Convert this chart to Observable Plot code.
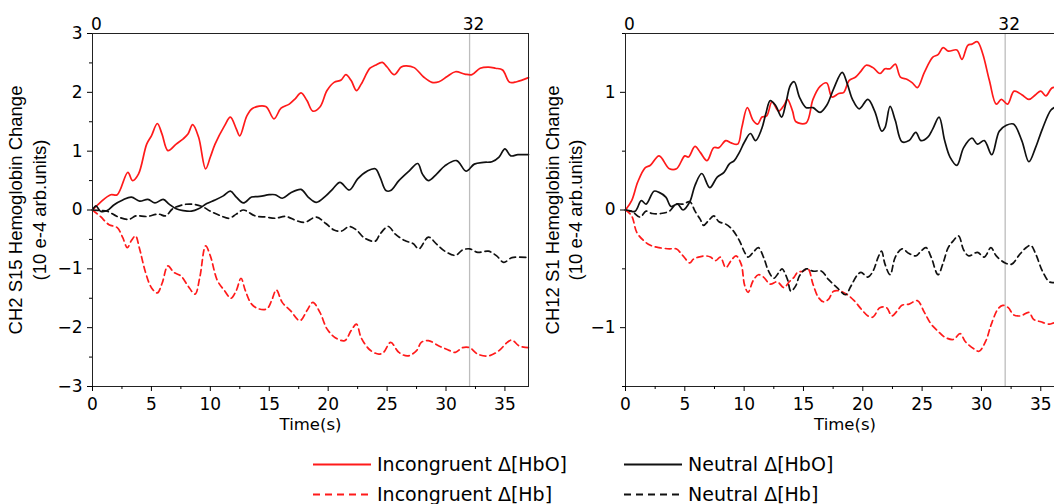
<!DOCTYPE html>
<html>
<head>
<meta charset="utf-8">
<script src="https://cdn.jsdelivr.net/npm/d3@7"></script>
<script src="https://cdn.jsdelivr.net/npm/@observablehq/plot@0.6"></script>
<style>
html, body { margin: 0; padding: 0; background: #fff; overflow: hidden; }
#wrap { position: relative; width: 1100px; height: 504px; }
#wrap > svg { position: absolute; }
</style>
</head>
<body>
<div id="wrap"></div>
<script>
// ---------- DATA (time in s, change in 10e-4 arb.units) ----------
// Left panel: CH2 S15
const ch2IncHbO = [[0,0],[0.67,0.13],[1.55,0.26],[2.1,0.26],[3.0,0.64],[3.4,0.5],[3.9,0.61],[4.6,1.12],[5.0,1.26],[5.5,1.47],[5.9,1.29],[6.4,1.01],[7.1,1.12],[7.7,1.21],[8.1,1.29],[8.5,1.45],[9.0,1.24],[9.6,0.70],[10.0,0.9],[10.4,1.12],[11.2,1.43],[11.7,1.58],[12.2,1.38],[12.5,1.26],[13.1,1.6],[13.6,1.73],[14.7,1.76],[15.4,1.55],[16.0,1.73],[16.7,1.8],[17.2,1.89],[17.7,1.99],[18.2,1.86],[18.7,1.68],[19.3,1.75],[19.9,2.03],[20.5,2.17],[21.1,2.21],[21.5,2.3],[21.95,2.2],[22.4,2.03],[22.8,2.14],[23.55,2.41],[24.0,2.46],[24.6,2.51],[25.0,2.43],[25.6,2.3],[26.2,2.43],[26.6,2.45],[27.3,2.42],[28.1,2.26],[28.8,2.17],[29.4,2.18],[30.1,2.27],[30.8,2.35],[31.6,2.31],[32.2,2.3],[32.9,2.41],[33.6,2.43],[34.2,2.41],[34.8,2.38],[35.4,2.17],[36.0,2.18],[37.0,2.25]];
const ch2NeuHbO = [[0,0],[0.3,0.07],[0.67,-0.02],[1.25,-0.01],[1.84,0.09],[2.57,0.17],[3.3,0.22],[4.0,0.15],[4.7,0.18],[5.3,0.12],[6.0,0.18],[6.5,0.1],[7.1,0.02],[7.7,-0.01],[8.4,-0.02],[9.0,0.02],[9.7,0.11],[10.4,0.17],[11.1,0.24],[11.7,0.32],[12.2,0.22],[12.8,0.12],[13.5,0.22],[14.2,0.23],[15.0,0.26],[15.5,0.26],[16.1,0.2],[16.8,0.29],[17.7,0.35],[18.3,0.22],[19.0,0.13],[19.8,0.24],[20.4,0.36],[21.0,0.47],[21.8,0.34],[22.5,0.53],[23.3,0.66],[24.0,0.70],[24.4,0.56],[24.9,0.33],[25.3,0.33],[26.0,0.5],[26.9,0.67],[27.6,0.79],[28.0,0.61],[28.5,0.5],[29.2,0.61],[29.9,0.75],[30.9,0.84],[31.7,0.66],[32.4,0.78],[33.2,0.81],[33.9,0.82],[34.5,0.9],[35.0,1.04],[35.5,0.92],[36.1,0.94],[37.0,0.94]];
const ch2IncHb = [[0,0],[0.67,-0.11],[1.4,-0.25],[2.1,-0.3],[2.57,-0.47],[2.95,-0.64],[3.3,-0.52],[3.65,-0.44],[3.97,-0.64],[4.5,-1.06],[5.0,-1.32],[5.5,-1.41],[5.9,-1.25],[6.4,-0.95],[6.9,-1.06],[7.5,-1.12],[8.1,-1.29],[8.7,-1.43],[9.1,-1.15],[9.6,-0.61],[10.0,-0.78],[10.6,-1.2],[11.2,-1.37],[11.75,-1.5],[12.2,-1.37],[12.6,-1.16],[12.97,-1.37],[13.5,-1.6],[14.1,-1.68],[14.8,-1.68],[15.2,-1.54],[15.6,-1.36],[16.1,-1.57],[16.8,-1.71],[17.6,-1.88],[18.2,-1.71],[18.7,-1.57],[19.3,-1.74],[19.9,-2.02],[20.6,-2.17],[21.4,-2.22],[21.95,-2.05],[22.4,-1.94],[22.8,-2.17],[23.55,-2.38],[24.3,-2.45],[24.7,-2.42],[25.3,-2.25],[26.0,-2.42],[26.75,-2.48],[27.5,-2.39],[27.9,-2.25],[28.5,-2.22],[29.4,-2.31],[30.1,-2.37],[30.8,-2.42],[31.4,-2.34],[32.0,-2.34],[32.7,-2.45],[33.6,-2.48],[34.5,-2.39],[35.2,-2.25],[35.6,-2.21],[36.2,-2.31],[37.0,-2.34]];
const ch2NeuHb = [[0,0],[0.67,-0.01],[1.25,-0.02],[2.1,-0.11],[3.06,-0.16],[3.7,-0.1],[4.6,-0.11],[5.6,-0.07],[6.2,-0.1],[6.8,0.02],[7.7,0.09],[8.4,0.1],[9.3,0.06],[10.0,-0.02],[10.9,-0.1],[11.6,-0.14],[12.2,-0.07],[12.8,0],[13.8,-0.1],[14.7,-0.12],[15.5,-0.14],[16.4,-0.11],[17.3,-0.18],[18.0,-0.21],[19.0,-0.12],[19.8,-0.23],[20.5,-0.34],[21.1,-0.36],[21.8,-0.28],[22.4,-0.34],[23.1,-0.48],[24.0,-0.53],[24.4,-0.41],[25.1,-0.28],[25.7,-0.41],[26.5,-0.52],[27.2,-0.57],[27.7,-0.66],[28.5,-0.46],[29.2,-0.58],[29.9,-0.7],[30.8,-0.77],[31.4,-0.68],[32.0,-0.66],[32.7,-0.72],[33.6,-0.7],[34.3,-0.78],[34.9,-0.89],[35.6,-0.81],[37.0,-0.81]];

// Right panel: CH12 S1
const ch12IncHbO = [[0,0],[0.52,0.08],[1.04,0.24],[1.67,0.36],[2.1,0.38],[2.83,0.46],[3.7,0.35],[4.3,0.35],[5.0,0.46],[5.3,0.45],[5.86,0.54],[6.3,0.49],[6.87,0.42],[7.44,0.53],[7.88,0.53],[8.45,0.59],[8.9,0.57],[9.46,0.56],[9.8,0.7],[10.27,0.87],[10.76,0.76],[11.14,0.73],[11.5,0.79],[11.9,0.8],[12.35,0.92],[12.9,0.84],[13.36,0.89],[13.65,0.94],[14.08,0.84],[14.37,0.75],[15.23,0.74],[15.8,0.94],[16.4,1.05],[16.96,1.08],[17.4,0.96],[17.97,0.99],[18.4,1.0],[18.84,1.1],[19.4,1.13],[19.85,1.18],[20.28,1.23],[20.86,1.21],[21.44,1.16],[21.87,1.2],[22.3,1.2],[22.74,1.24],[23.17,1.13],[23.75,1.11],[24.18,1.08],[24.6,1.04],[25.19,1.17],[25.9,1.3],[26.34,1.32],[26.77,1.38],[27.2,1.35],[27.93,1.36],[28.36,1.28],[28.85,1.4],[29.2,1.41],[29.66,1.43],[30.1,1.33],[30.67,1.1],[31.25,0.9],[31.68,0.94],[32.2,0.9],[32.75,1.01],[33.4,0.98],[34.0,0.94],[34.56,0.98],[35.0,1.01],[35.43,0.97],[36.0,1.04],[37.0,1.02]];
const ch12NeuHbO = [[0,0],[0.81,-0.01],[1.33,0.08],[1.73,0.05],[2.4,0.16],[2.83,0.15],[3.4,0.11],[3.84,0.03],[4.4,0.05],[4.85,0],[5.42,0.07],[5.86,0.21],[6.43,0.31],[7.1,0.19],[7.73,0.28],[8.3,0.32],[8.74,0.39],[9.17,0.42],[9.6,0.49],[10.04,0.58],[10.53,0.65],[10.96,0.59],[11.48,0.69],[11.83,0.82],[12.2,0.93],[12.64,0.89],[13.16,0.79],[13.5,0.9],[13.9,1.06],[14.22,1.09],[14.66,0.96],[15.23,0.87],[15.8,0.87],[16.4,0.83],[16.96,0.89],[17.54,1.03],[18.26,1.17],[18.7,1.07],[19.13,0.94],[19.7,0.86],[20.43,0.94],[21.0,0.84],[21.6,0.67],[21.87,0.7],[22.3,0.88],[22.74,0.76],[23.3,0.58],[23.9,0.59],[24.47,0.66],[24.9,0.59],[25.48,0.62],[25.9,0.69],[26.43,0.79],[26.9,0.59],[27.35,0.45],[27.93,0.38],[28.5,0.53],[29.2,0.61],[29.66,0.56],[30.24,0.59],[30.87,0.47],[31.5,0.67],[32.1,0.72],[32.7,0.73],[33.4,0.59],[34.0,0.41],[34.56,0.53],[35.14,0.69],[35.86,0.85],[36.3,0.88],[37.0,0.93]];
const ch12IncHb = [[0,0],[0.52,-0.05],[0.95,-0.19],[1.53,-0.26],[2.1,-0.3],[2.83,-0.32],[3.7,-0.33],[4.27,-0.33],[4.85,-0.39],[5.42,-0.45],[5.7,-0.42],[6.15,-0.4],[6.72,-0.39],[7.16,-0.4],[7.6,-0.43],[8.0,-0.4],[8.45,-0.49],[8.9,-0.43],[9.32,-0.39],[9.75,-0.46],[10.04,-0.64],[10.33,-0.7],[10.76,-0.6],[11.2,-0.55],[11.63,-0.57],[12.2,-0.63],[12.78,-0.61],[13.36,-0.66],[13.8,-0.61],[14.22,-0.57],[14.5,-0.53],[14.95,-0.52],[15.38,-0.5],[15.8,-0.63],[16.24,-0.74],[16.68,-0.78],[17.1,-0.76],[17.54,-0.69],[18.12,-0.69],[18.7,-0.72],[19.27,-0.77],[19.85,-0.84],[20.43,-0.9],[20.86,-0.91],[21.44,-0.83],[22.0,-0.83],[22.45,-0.9],[22.88,-0.86],[23.3,-0.81],[23.9,-0.8],[24.6,-0.77],[25.19,-0.87],[25.76,-0.97],[26.34,-1.03],[26.9,-1.08],[27.64,-1.1],[28.2,-1.05],[28.65,-1.12],[29.37,-1.18],[29.8,-1.2],[30.38,-1.11],[30.8,-0.98],[31.4,-0.84],[31.8,-0.81],[32.26,-0.83],[32.7,-0.89],[33.3,-0.9],[34.0,-0.87],[34.4,-0.93],[35.0,-0.95],[35.72,-0.97],[36.2,-0.96],[37.0,-1.01]];
const ch12NeuHb = [[0,0],[0.52,-0.01],[1.24,-0.06],[1.73,-0.01],[2.25,-0.03],[2.97,-0.03],[3.7,-0.01],[4.27,0.05],[4.85,0.05],[5.42,0.07],[5.86,-0.01],[6.3,-0.08],[6.58,-0.13],[7.0,-0.09],[7.44,-0.05],[7.88,-0.1],[8.45,-0.12],[9.03,-0.17],[9.6,-0.26],[10.04,-0.36],[10.33,-0.4],[10.76,-0.36],[11.2,-0.32],[11.63,-0.4],[12.06,-0.52],[12.5,-0.58],[12.93,-0.53],[13.2,-0.5],[13.65,-0.59],[13.94,-0.69],[14.37,-0.64],[14.66,-0.56],[15.23,-0.5],[15.8,-0.52],[16.53,-0.52],[17.1,-0.59],[17.83,-0.66],[18.55,-0.72],[18.98,-0.65],[19.56,-0.55],[19.85,-0.53],[20.43,-0.57],[20.86,-0.52],[21.3,-0.4],[21.58,-0.35],[21.87,-0.46],[22.3,-0.55],[22.74,-0.4],[23.3,-0.33],[23.9,-0.37],[24.47,-0.39],[24.9,-0.35],[25.33,-0.32],[25.76,-0.4],[26.34,-0.55],[26.77,-0.45],[27.2,-0.32],[27.64,-0.26],[28.07,-0.22],[28.5,-0.34],[28.94,-0.39],[29.66,-0.36],[30.24,-0.4],[30.8,-0.32],[31.25,-0.39],[32.0,-0.45],[32.55,-0.46],[33.13,-0.39],[33.65,-0.33],[34.14,-0.3],[34.56,-0.37],[35.14,-0.52],[35.72,-0.61],[36.2,-0.62],[37.0,-0.66]];

// Tick labels
const xMajorTicks = [0, 5, 10, 15, 20, 25, 30, 35];
const xMinorTicks = [2.5, 7.5, 12.5, 17.5, 22.5, 27.5, 32.5];
const xTopTicks = [0, 32];
const leftYMajor = [-3, -2, -1, 0, 1, 2, 3];
const leftYMinor = [-2.5, -1.5, -0.5, 0.5, 1.5, 2.5];
const rightYMajor = [-1, 0, 1];
const rightYMinor = [-1.5, -0.5, 0.5, 1.5];
const leftTitle = ["CH2 S15 Hemoglobin Change", "(10 e-4 arb.units)"];
const rightTitle = ["CH12 S1 Hemoglobin Change", "(10 e-4 arb.units)"];
const xTitle = "Time(s)";
const seriesNames = ["Incongruent Δ[HbO]", "Neutral Δ[HbO]", "Incongruent Δ[Hb]", "Neutral Δ[Hb]"];
const stimulusEnd = 32;

// ---------- DRAWING ----------
const RED = "#ff1a1a", BLACK = "#111";
const DASH = "6,4";
const TICKFONT = "DejaVu Sans";
const TITLEFONT = "Liberation Sans, Arial, sans-serif";
const intFmt = d3.format("d");

function panel(o) {
  const series = [
    {pts: o.incHbO, stroke: RED, dash: null},
    {pts: o.neuHbO, stroke: BLACK, dash: null},
    {pts: o.incHb, stroke: RED, dash: DASH},
    {pts: o.neuHb, stroke: BLACK, dash: DASH}
  ];
  const txt = {fontFamily: TICKFONT, fontSize: 17};
  return Plot.plot({
    width: o.width, height: 430,
    marginLeft: o.ml, marginRight: 10, marginTop: 33, marginBottom: 44,
    x: {domain: [0, 37]},
    y: {domain: o.yDomain},
    style: {fontFamily: TICKFONT, fontSize: "17px", color: "#000", background: "transparent", overflow: "visible"},
    marks: [
      Plot.ruleX([stimulusEnd], {stroke: "#bdbdbd", strokeWidth: 1.3}),
      ...series.map(s => Plot.line(s.pts, {x: d => d[0], y: d => d[1], stroke: s.stroke, strokeWidth: 1.7, strokeDasharray: s.dash, curve: "catmull-rom"})),
      Plot.frame({stroke: "#222", strokeWidth: 1}),
      Plot.axisX(xMajorTicks, {anchor: "bottom", tickSize: 5, tickPadding: 6, tickFormat: intFmt, label: null, ...txt}),
      Plot.axisX(xMinorTicks, {anchor: "bottom", tickSize: 3, tickFormat: () => "", label: null}),
      Plot.text(xTopTicks, {x: d => d, frameAnchor: "top", text: d => String(d), lineAnchor: "bottom", dy: -4, dx: 4, ...txt}),
      Plot.axisY(o.yMajor, {anchor: "left", tickSize: 5, tickPadding: 5, tickFormat: intFmt, label: null, ...txt}),
      Plot.axisY(o.yMinor, {anchor: "left", tickSize: 3, tickFormat: () => "", label: null}),
      Plot.text([o.title[0]], {frameAnchor: "left", rotate: -90, dx: o.t1dx, textAnchor: "middle", lineAnchor: "middle", fontFamily: TITLEFONT, fontSize: 18.5}),
      Plot.text([o.title[1]], {frameAnchor: "left", rotate: -90, dx: o.t2dx, textAnchor: "middle", lineAnchor: "middle", fontFamily: TITLEFONT, fontSize: 18.5}),
      Plot.text([xTitle], {frameAnchor: "bottom", dy: 38, textAnchor: "middle", lineAnchor: "middle", fontFamily: TICKFONT, fontSize: 16.5})
    ]
  });
}

const wrap = document.getElementById("wrap");

const left = panel({width: 538, ml: 92, yDomain: [-3, 3], yMajor: leftYMajor, yMinor: leftYMinor,
  title: leftTitle, t1dx: -76, t2dx: -52.5,
  incHbO: ch2IncHbO, neuHbO: ch2NeuHbO, incHb: ch2IncHb, neuHb: ch2NeuHb});
left.style.left = "0px"; left.style.top = "0px";
wrap.appendChild(left);

const right = panel({width: 536, ml: 87, yDomain: [-1.5, 1.5], yMajor: rightYMajor, yMinor: rightYMinor,
  title: rightTitle, t1dx: -72.5, t2dx: -49,
  incHbO: ch12IncHbO, neuHbO: ch12NeuHbO, incHb: ch12IncHb, neuHb: ch12NeuHb});
right.style.left = "538px"; right.style.top = "0px";
wrap.appendChild(right);

// ---------- LEGEND (below the charts) ----------
const legendSpec = [
  {name: seriesNames[0], stroke: RED, dash: null, col: 0, row: 0},
  {name: seriesNames[1], stroke: BLACK, dash: null, col: 1, row: 0},
  {name: seriesNames[2], stroke: RED, dash: DASH, col: 0, row: 1},
  {name: seriesNames[3], stroke: BLACK, dash: DASH, col: 1, row: 1}
];
const colX = [313, 624], lineLen = 58, rowY = [34, 64];
const leg = d3.create("svg").attr("width", 1054).attr("height", 74)
  .style("left", "0px").style("top", "430px");
for (const e of legendSpec) {
  const x0 = colX[e.col], y0 = rowY[e.row];
  leg.append("line").attr("x1", x0).attr("x2", x0 + lineLen).attr("y1", y0 + 0.5).attr("y2", y0 + 0.5)
    .attr("stroke", e.stroke).attr("stroke-width", 2).attr("stroke-dasharray", e.dash ? "7,5" : null);
  leg.append("text").attr("x", x0 + lineLen + 6).attr("y", y0 + 6.7)
    .attr("font-family", "DejaVu Sans").attr("font-size", 19).attr("fill", "#000").text(e.name);
}
wrap.appendChild(leg.node());
</script>
</body>
</html>
